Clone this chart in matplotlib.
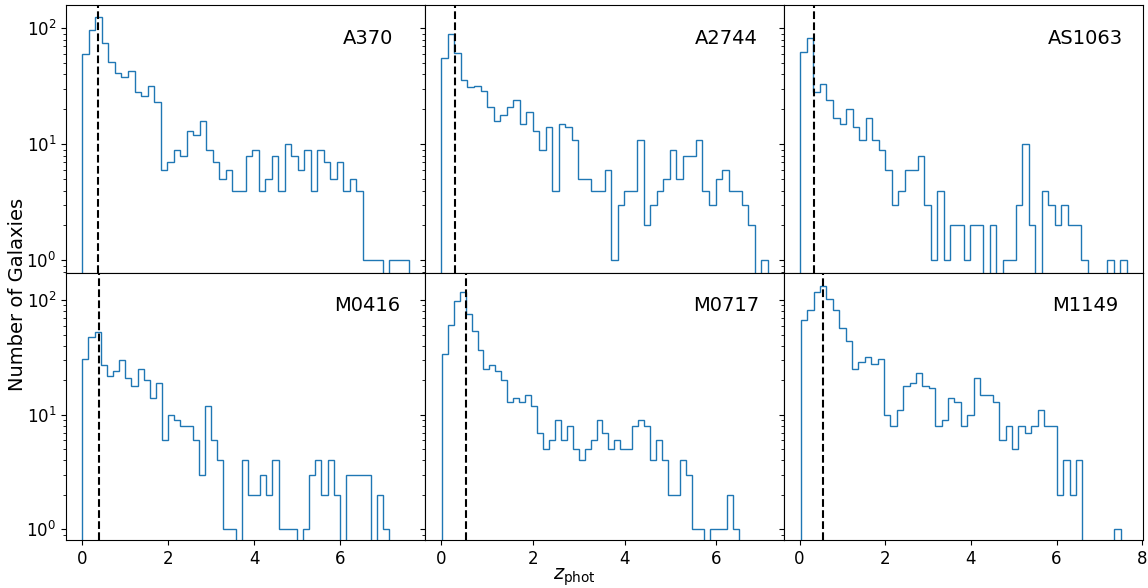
import numpy as np
import matplotlib
matplotlib.use("Agg")
from matplotlib import pyplot as plt

# cluster names and cluster redshifts (dashed lines)
clusters = ["A370", "A2744", "AS1063", "M0416", "M0717", "M1149"]
z_cluster = [0.375, 0.308, 0.348, 0.396, 0.545, 0.543]

# range of the 50 photo-z bins for each field
z_min = [0.0, 0.0, 0.02, 0.0, 0.01, 0.03]
z_max = [7.60, 7.12, 7.64, 7.14, 6.50, 7.50]

# galaxy counts per bin
n_a370 = [60, 96, 125, 74, 51, 41, 38, 43, 28, 26,
          32, 23, 6, 7, 9, 8, 13, 12, 16, 9,
          7, 5, 6, 4, 4, 8, 9, 4, 5, 8,
          4, 10, 8, 6, 9, 4, 9, 7, 5, 7,
          4, 5, 4, 1, 1, 1, 0, 1, 1, 1]
n_a2744 = [55, 89, 61, 36, 31, 32, 29, 21, 16, 18,
           21, 24, 15, 19, 13, 9, 14, 4, 15, 14,
           11, 5, 5, 4, 4, 6, 1, 3, 4, 4,
           11, 2, 3, 4, 5, 9, 5, 8, 8, 11,
           4, 3, 5, 6, 4, 4, 3, 2, 0, 1]
n_as1063 = [63, 83, 28, 33, 24, 17, 15, 20, 14, 11,
            17, 11, 9, 6, 3, 4, 6, 6, 8, 3,
            1, 4, 1, 2, 2, 1, 2, 2, 0, 2,
            0, 1, 1, 3, 10, 2, 0, 4, 3, 2,
            3, 2, 2, 1, 0, 0, 0, 1, 0, 1]
n_m0416 = [31, 48, 53, 27, 22, 24, 30, 21, 18, 25,
           20, 14, 19, 6, 10, 9, 8, 8, 6, 3,
           12, 6, 4, 1, 1, 0, 4, 2, 2, 3,
           2, 4, 1, 1, 1, 0, 1, 3, 4, 2,
           4, 2, 0, 3, 3, 3, 3, 0, 2, 1]
n_m0717 = [34, 61, 98, 118, 76, 54, 37, 25, 27, 24,
           20, 13, 14, 13, 15, 12, 7, 5, 6, 9,
           6, 8, 5, 4, 5, 6, 9, 7, 5, 6,
           5, 5, 8, 9, 8, 4, 6, 4, 2, 2,
           4, 3, 1, 1, 0, 1, 1, 1, 2, 1]
n_m1149 = [67, 82, 118, 134, 103, 83, 57, 44, 25, 29,
           32, 28, 31, 10, 8, 11, 18, 19, 23, 18,
           17, 8, 9, 14, 13, 8, 10, 21, 15, 15,
           13, 6, 8, 5, 8, 7, 8, 11, 8, 8,
           2, 4, 2, 4, 0, 0, 0, 0, 0, 1]
counts = [n_a370, n_a2744, n_as1063, n_m0416, n_m0717, n_m1149]

fig, axes = plt.subplots(2, 3, figsize=(11.48, 5.88), dpi=100,
                         sharex="col", sharey="row")
plt.subplots_adjust(left=0.0575, right=0.9957, top=0.9915, bottom=0.0811,
                    wspace=0, hspace=0)

for i, ax in enumerate(axes.flat):
    edges = np.linspace(z_min[i], z_max[i], 51)
    ax.hist(edges[:-1], bins=edges, weights=counts[i], histtype="step",
            color="C0", lw=1.0)
    ax.axvline(z_cluster[i], color="k", ls="--", lw=1.5)
    ax.set_yscale("log")
    ax.text(0.84, 0.856, clusters[i], transform=ax.transAxes,
            ha="center", va="baseline", fontsize=14)
    ax.tick_params(labelsize=12)

axes[0, 0].set_ylim(10 ** -0.106, 10 ** 2.201)
axes[1, 0].set_ylim(10 ** -0.096, 10 ** 2.241)
for ax in axes[:, 1:].flat:
    ax.tick_params(labelleft=False)

fig.supylabel("Number of Galaxies", fontsize=14, x=0.007)
fig.supxlabel(r"$z_{\rm phot}$", fontsize=14, y=0.0)

plt.savefig("out.png")
